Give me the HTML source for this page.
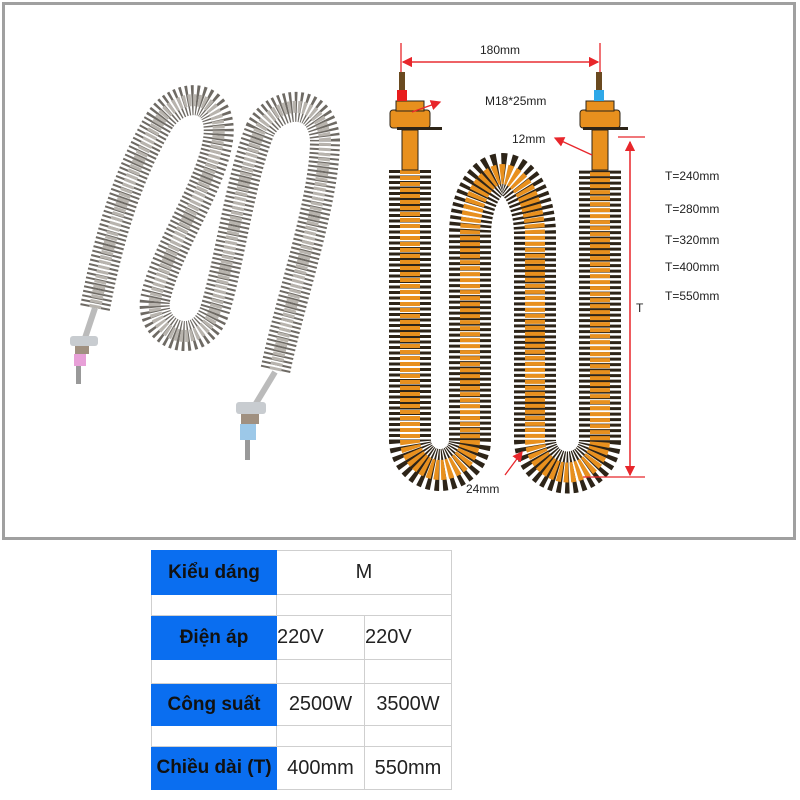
<!DOCTYPE html>
<html><head><meta charset="utf-8"><style>
body{margin:0;width:800px;height:800px;background:#fff;position:relative;overflow:hidden;font-family:"Liberation Sans",sans-serif}
.frame{position:absolute;left:2px;top:2px;width:788px;height:532px;border:3px solid #a0a0a0}
table{position:absolute;left:151px;top:550px;border-collapse:collapse}
td{border:1px solid #cfcfcf;padding:0;font-size:20px;color:#222}
td.h{background:#0a6ef0;color:#111;font-weight:bold;text-align:center;font-size:19px;border-color:#0a6ef0}
</style></head><body>
<div class="frame"></div>
<svg width="800" height="540" style="position:absolute;left:0;top:0">
<defs>
<marker id="a" markerWidth="8" markerHeight="8" refX="7" refY="4" orient="auto"><path d="M0,0 L8,4 L0,8z" fill="#e8262b"/></marker>
</defs>
<!-- photo -->
<g fill="none">
<path id="p" d="M95,308 C110,230 130,170 160,120 C180,90 225,92 218,140 C210,190 165,250 155,300 C150,335 200,355 215,310 C230,260 240,180 260,130 C275,100 322,95 325,140 C325,200 290,300 275,372" stroke="#6e6a64" stroke-width="30" stroke-dasharray="2 2.5"/>
<path d="M95,308 C110,230 130,170 160,120 C180,90 225,92 218,140 C210,190 165,250 155,300 C150,335 200,355 215,310 C230,260 240,180 260,130 C275,100 322,95 325,140 C325,200 290,300 275,372" stroke="#b8b4ae" stroke-width="12" stroke-dasharray="3 2"/>
</g>
<path d="M95,308 L85,338" stroke="#bbb" stroke-width="6"/>
<path d="M275,372 L255,405" stroke="#bbb" stroke-width="6"/>
<rect x="70" y="336" width="28" height="10" rx="3" fill="#c8ccd0"/><rect x="75" y="346" width="14" height="8" fill="#a09080"/><rect x="74" y="354" width="12" height="12" fill="#e8a0d8"/><rect x="76" y="366" width="5" height="18" fill="#999"/>
<rect x="236" y="402" width="30" height="12" rx="3" fill="#c8ccd0"/><rect x="241" y="414" width="18" height="10" fill="#a09080"/><rect x="240" y="424" width="16" height="16" fill="#9cc8e8"/><rect x="245" y="440" width="5" height="20" fill="#999"/>
<!-- diagram -->
<g fill="none">
<path d="M410,170 L410,440 A30,30 0 0 0 470,440 L470,235 A32,60 0 0 1 535,235 L535,440 A32,32 0 0 0 600,440 L600,170" stroke="#2d2418" stroke-width="42" stroke-dasharray="3 2.5"/>
<path d="M410,170 L410,440 A30,30 0 0 0 470,440 L470,235 A32,60 0 0 1 535,235 L535,440 A32,32 0 0 0 600,440 L600,170" stroke="#e8901e" stroke-width="20" stroke-dasharray="4 2"/>
</g>
<g fill="#e8901e" stroke="#2d2418">
<rect x="402" y="130" width="16" height="40"/><rect x="592" y="130" width="16" height="40"/>
<rect x="390" y="110" width="40" height="18" rx="3"/><rect x="580" y="110" width="40" height="18" rx="3"/>
<rect x="396" y="101" width="28" height="10"/><rect x="586" y="101" width="28" height="10"/>
</g>
<rect x="397" y="127" width="45" height="3" fill="#2d2418"/><rect x="583" y="127" width="45" height="3" fill="#2d2418"/>
<rect x="397" y="90" width="10" height="11" fill="#e81c1c"/><rect x="594" y="90" width="10" height="11" fill="#2fa8e8"/>
<rect x="399" y="72" width="6" height="18" fill="#6a4a20"/><rect x="596" y="72" width="6" height="18" fill="#6a4a20"/>
<g stroke="#e8262b" stroke-width="1.3" fill="none">
<line x1="401" y1="43" x2="401" y2="72"/><line x1="600" y1="43" x2="600" y2="72"/>
<line x1="403" y1="62" x2="598" y2="62" marker-end="url(#a)"/><line x1="598" y1="62" x2="403" y2="62" marker-end="url(#a)"/>
<line x1="412" y1="112" x2="440" y2="102" marker-end="url(#a)"/>
<line x1="592" y1="155" x2="555" y2="138" marker-end="url(#a)"/>
<line x1="618" y1="137" x2="645" y2="137"/><line x1="583" y1="477" x2="645" y2="477"/>
<line x1="630" y1="475" x2="630" y2="142" marker-end="url(#a)"/><line x1="630" y1="142" x2="630" y2="475" marker-end="url(#a)"/>
<line x1="505" y1="475" x2="522" y2="452" marker-end="url(#a)"/>
</g>
<g font-size="12" fill="#222">
<text x="480" y="54">180mm</text><text x="485" y="105">M18*25mm</text><text x="512" y="143">12mm</text>
<text x="665" y="180">T=240mm</text><text x="665" y="213">T=280mm</text><text x="665" y="244">T=320mm</text><text x="665" y="271">T=400mm</text><text x="665" y="300">T=550mm</text>
<text x="636" y="312">T</text><text x="466" y="493">24mm</text>
</g>
</svg>
<table>
<tr style="height:44px"><td class="h" style="width:124px">Kiểu dáng</td><td colspan="2" style="text-align:center">M</td></tr>
<tr style="height:21px"><td style="width:124px"></td><td colspan="2"></td></tr>
<tr style="height:44px"><td class="h">Điện áp</td><td style="width:87px">220V</td><td style="width:86px">220V</td></tr>
<tr style="height:24px"><td></td><td></td><td></td></tr>
<tr style="height:42px"><td class="h">Công suất</td><td style="text-align:center">2500W</td><td style="text-align:center">3500W</td></tr>
<tr style="height:21px"><td></td><td></td><td></td></tr>
<tr style="height:43px"><td class="h">Chiều dài (T)</td><td style="text-align:center">400mm</td><td style="text-align:center">550mm</td></tr>
</table>
</body></html>
